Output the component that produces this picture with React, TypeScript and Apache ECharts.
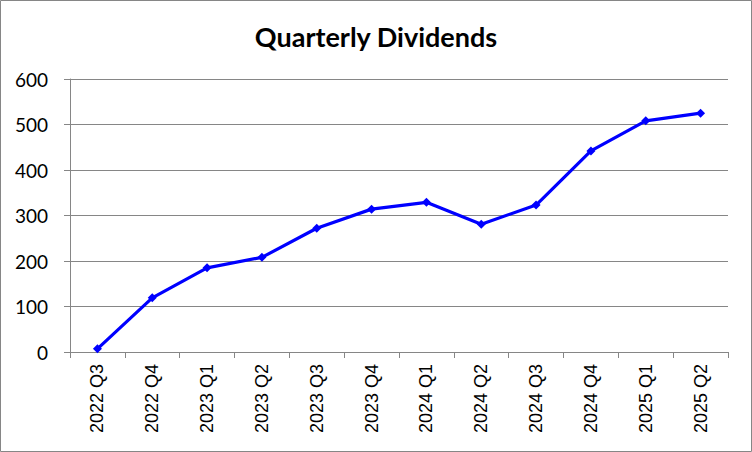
import React, { useEffect, useRef } from "react";
import * as echarts from "echarts";

const categories = ["2022 Q3", "2022 Q4", "2023 Q1", "2023 Q2", "2023 Q3", "2023 Q4", "2024 Q1", "2024 Q2", "2024 Q3", "2024 Q4", "2025 Q1", "2025 Q2"];
const dividends = [7, 119, 185, 208, 272, 314, 329, 281, 323, 442, 508, 525];
const yMin = 0;
const yMax = 600;
const yStep = 100;
const titleText = "Quarterly Dividends";

export default function App() {
  const ref = useRef<HTMLDivElement>(null);
  useEffect(() => {
    document.body.style.margin = "0";
    const chart = echarts.init(ref.current!, null, { renderer: "svg" });
    chart.setOption({
      animation: false,
      backgroundColor: "#ffffff",
      title: {
        text: titleText,
        left: "center",
        top: 18,
        textStyle: { fontFamily: "Lato", fontWeight: "bold", fontSize: 27, color: "#000" },
      },
      graphic: [
        {
          type: "rect",
          shape: { x: 0.5, y: 0.5, width: 751, height: 451 },
          style: { fill: "none", stroke: "#868686", lineWidth: 1 },
          silent: true,
        },
      ],
      grid: { left: 70, right: 24, top: 79, bottom: 100 },
      xAxis: {
        type: "category",
        data: categories,
        boundaryGap: true,
        axisLine: { lineStyle: { color: "#868686", width: 1 } },
        axisTick: { show: true, alignWithLabel: false, length: 6, lineStyle: { color: "#868686" } },
        axisLabel: {
          rotate: 90,
          interval: 0,
          margin: 12,
          fontFamily: "Liberation Sans",
          fontSize: 18,
          color: "#000",
        },
      },
      yAxis: {
        type: "value",
        min: yMin,
        max: yMax,
        interval: yStep,
        axisLine: { show: true, lineStyle: { color: "#868686", width: 1 } },
        axisTick: { show: true, length: 6, lineStyle: { color: "#868686" } },
        splitLine: { lineStyle: { color: "#868686", width: 1 } },
        axisLabel: { fontFamily: "Lato", fontSize: 19, color: "#000", margin: 22 },
      },
      series: [
        {
          type: "line",
          data: dividends,
          lineStyle: { color: "#0000ff", width: 3.2 },
          itemStyle: { color: "#0000ff" },
          symbol: "diamond",
          symbolSize: 9,
          showSymbol: true,
        },
      ],
    });
    return () => chart.dispose();
  }, []);
  return <div ref={ref} style={{ width: 752, height: 452 }} />;
}
